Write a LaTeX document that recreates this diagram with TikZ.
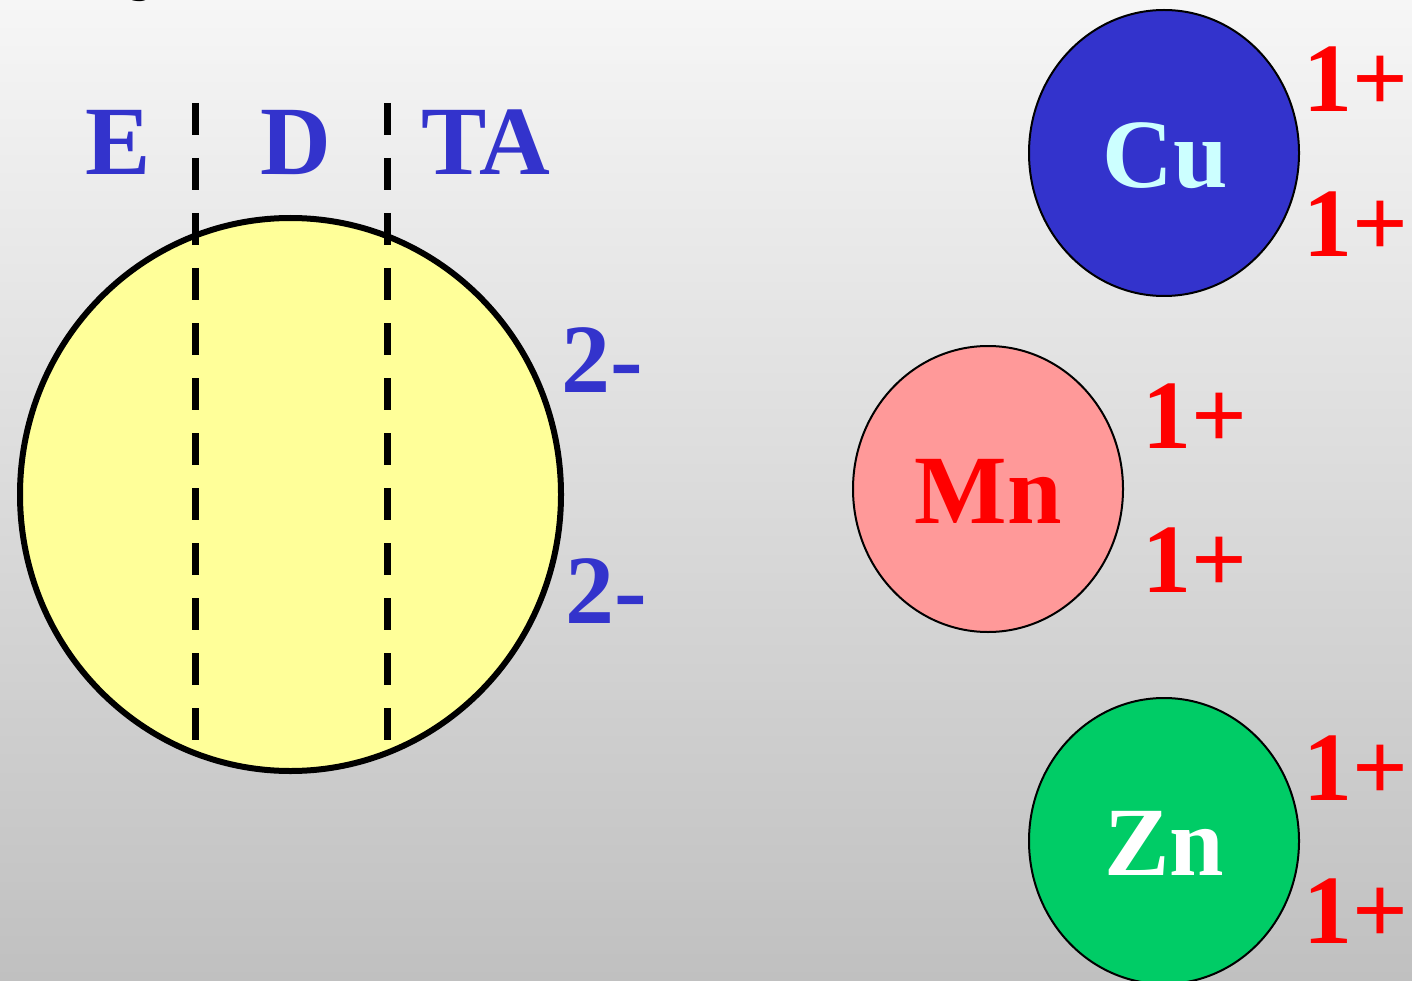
\documentclass[tikz,border=0pt]{standalone}
\usepackage{fontspec}
\setmainfont{Liberation Serif}
\usetikzlibrary{shapes.geometric}
\definecolor{ionblue}{HTML}{3333CC}
\definecolor{ligandyellow}{HTML}{FFFF99}
\definecolor{mnpink}{HTML}{FF9999}
\definecolor{zngreen}{HTML}{00CC66}
\definecolor{cutext}{HTML}{CCFFFF}
\definecolor{bgtop}{HTML}{F6F6F6}
\definecolor{bgbottom}{HTML}{C0C0C0}
\tikzset{
  big/.style={font=\fontsize{98}{98}\selectfont\bfseries, inner sep=0pt, anchor=base},
  charge/.style={big, text=red},
  ligandlbl/.style={big, text=ionblue},
  metal/.style={ellipse, draw=black, line width=2pt, inner sep=0pt,
                minimum width=270pt, minimum height=286pt},
  divider/.style={line width=7pt, dash pattern=on 32pt off 23pt},
}
\begin{document}
\begin{tikzpicture}[x=1pt, y=-1pt]
\useasboundingbox (0,0) rectangle (1412,981);
\clip (0,0) rectangle (1412,981);
\shade[top color=bgtop, bottom color=bgbottom] (0,0) rectangle (1412,981);

% cut-off letter at the top edge
\node[font=\fontsize{98}{98}\selectfont\bfseries\itshape, inner sep=0pt, anchor=base west] (title) at (142,-19) {y};

% EDTA ligand
\node[ellipse, draw=black, fill=ligandyellow, line width=6pt, inner sep=0pt,
      minimum width=541pt, minimum height=553pt] (edta) at (290.5,494.5) {};
\draw[divider] (195,103) coordinate (d1top) -- (195,745) coordinate (d1bot);
\draw[divider] (387,103) coordinate (d2top) -- (387,745) coordinate (d2bot);
\node[ligandlbl] (lE) at (118,175) {E};
\node[ligandlbl] (lD) at (296,175) {D};
\node[ligandlbl] (lTA) at (486,175) {TA};
\node[ligandlbl] (q1) at (602,392) {2-};
\node[ligandlbl] (q2) at (606,623) {2-};

% copper ion
\node[metal, fill=ionblue] (cu) at (1164,153) {};
\node[big, text=cutext] (cuL) at (1165,188) {Cu};
\node[charge] (cu1) at (1356,112) {1+};
\node[charge] (cu2) at (1356,257) {1+};

% manganese ion
\node[metal, fill=mnpink] (mn) at (988,489) {};
\node[big, text=red] (mnL) at (988,523) {Mn};
\node[charge] (mn1) at (1195,448) {1+};
\node[charge] (mn2) at (1195,592) {1+};

% zinc ion
\node[metal, fill=zngreen] (zn) at (1164,841) {};
\node[big, text=white] (znL) at (1164,875) {Zn};
\node[charge] (zn1) at (1356,800) {1+};
\node[charge] (zn2) at (1356,943) {1+};
\end{tikzpicture}
\end{document}
